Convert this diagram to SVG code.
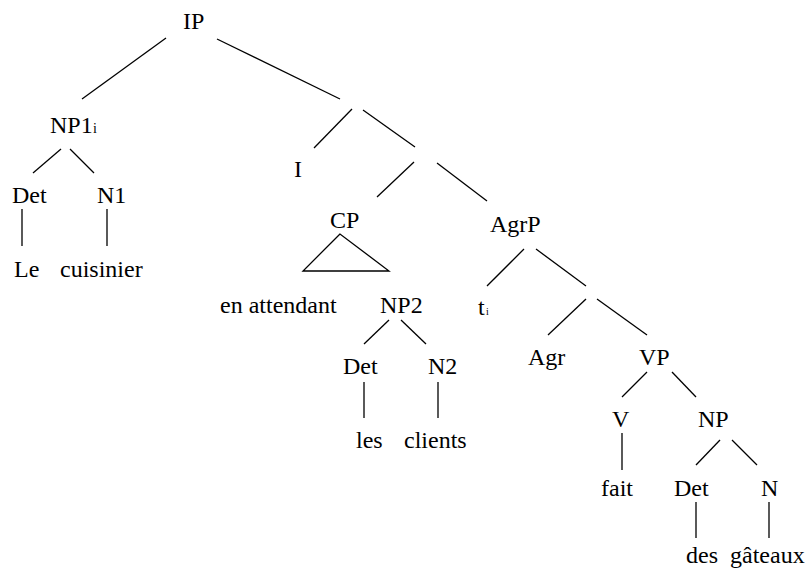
<svg xmlns="http://www.w3.org/2000/svg" width="811" height="572" viewBox="0 0 811 572">
  <style>
    text { font-family: "Liberation Serif", "Times New Roman", serif; font-size: 24px; fill: #000; }
    .sub { font-size: 14px; }
    .tiny { font-size: 10px; }
    #edges line, #edges polygon { stroke: #000; stroke-width: 1.3; fill: none; }
  </style>
  <rect width="811" height="572" fill="#fff"/>

  <!-- tree branches -->
  <g id="edges">
    <line x1="166" y1="38" x2="82" y2="99"/>
    <line x1="217" y1="39" x2="340" y2="99"/>
    <line x1="61" y1="149" x2="33" y2="173"/>
    <line x1="70" y1="149" x2="94" y2="173"/>
    <line x1="22" y1="209" x2="22" y2="246"/>
    <line x1="107" y1="209" x2="107" y2="246"/>
    <line x1="352" y1="109" x2="314" y2="148"/>
    <line x1="363" y1="110" x2="415" y2="147"/>
    <line x1="414" y1="162" x2="377" y2="197"/>
    <line x1="437" y1="163" x2="487" y2="201"/>
    <polygon points="340,234 303,271 389,271"/>
    <line x1="524" y1="249" x2="487" y2="286"/>
    <line x1="536" y1="249" x2="586" y2="286"/>
    <line x1="586" y1="299" x2="548" y2="335"/>
    <line x1="597" y1="299" x2="647" y2="335"/>
    <line x1="389" y1="320" x2="364" y2="344"/>
    <line x1="401" y1="320" x2="426" y2="344"/>
    <line x1="364" y1="382" x2="364" y2="418"/>
    <line x1="438" y1="382" x2="438" y2="418"/>
    <line x1="647" y1="372" x2="622" y2="397"/>
    <line x1="672" y1="372" x2="696" y2="397"/>
    <line x1="622" y1="433" x2="622" y2="470"/>
    <line x1="720" y1="440" x2="696" y2="465"/>
    <line x1="732" y1="440" x2="757" y2="465"/>
    <line x1="696" y1="502" x2="696" y2="538"/>
    <line x1="769" y1="502" x2="769" y2="538"/>
  </g>

  <g id="ip"><text x="183" y="29">IP</text></g>
  <g id="np1"><text x="50" y="133">NP1<tspan class="sub" x="93">i</tspan></text></g>
  <g id="det1"><text x="12" y="203">Det</text></g>
  <g id="n1"><text x="97" y="203">N1</text></g>
  <g id="le"><text x="14" y="277">Le</text></g>
  <g id="cuisinier"><text x="60" y="277">cuisinier</text></g>
  <g id="i-head"><text x="294" y="177">I</text></g>
  <g id="cp"><text x="330" y="228">CP</text></g>
  <g id="en-attendant"><text x="220" y="313">en attendant</text></g>
  <g id="np2"><text x="380" y="313">NP2</text></g>
  <g id="det2"><text x="343" y="374">Det</text></g>
  <g id="n2"><text x="428" y="374">N2</text></g>
  <g id="les"><text x="356" y="448">les</text></g>
  <g id="clients"><text x="404" y="448">clients</text></g>
  <g id="agrp"><text x="490" y="232">AgrP</text></g>
  <g id="trace"><text x="478" y="315">t<tspan class="tiny" x="486">i</tspan></text></g>
  <g id="agr"><text x="528" y="365">Agr</text></g>
  <g id="vp"><text x="639" y="365">VP</text></g>
  <g id="v"><text x="612" y="427">V</text></g>
  <g id="fait"><text x="601" y="496">fait</text></g>
  <g id="np"><text x="698" y="427">NP</text></g>
  <g id="det3"><text x="674" y="496">Det</text></g>
  <g id="n"><text x="761" y="496">N</text></g>
  <g id="des"><text x="686" y="563">des</text></g>
  <g id="gateaux"><text x="730" y="563">gâteaux</text></g>
</svg>
